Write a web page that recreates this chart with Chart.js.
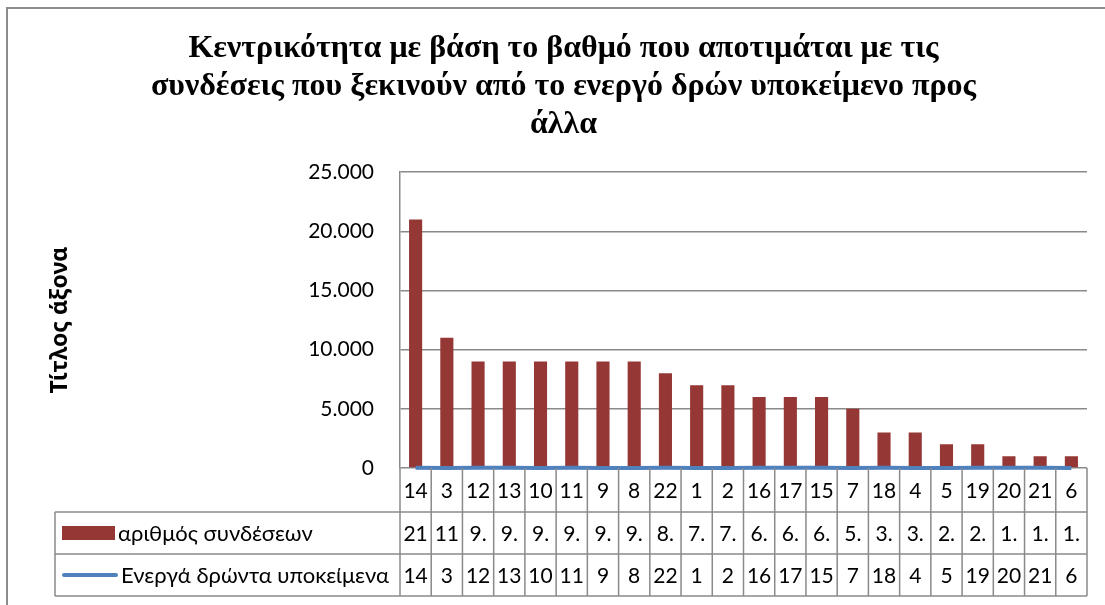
<!DOCTYPE html>
<html>
<head>
<meta charset="utf-8">
<script src="https://cdn.jsdelivr.net/npm/chart.js@4"></script>
<style>
  body { margin: 0; background: #fff; }
  #wrap { width: 1105px; height: 605px; position: relative; }
</style>
</head>
<body>
<div id="wrap"><canvas id="degreeChart"></canvas></div>
<script>
const categories = ['14', '3', '12', '13', '10', '11', '9', '8', '22', '1', '2', '16', '17', '15', '7', '18', '4', '5', '19', '20', '21', '6'];
const connections = [21000, 11000, 9000, 9000, 9000, 9000, 9000, 9000, 8000, 7000, 7000, 6000, 6000, 6000, 5000, 3000, 3000, 2000, 2000, 1000, 1000, 1000];
const actors = [14, 3, 12, 13, 10, 11, 9, 8, 22, 1, 2, 16, 17, 15, 7, 18, 4, 5, 19, 20, 21, 6];
const yTicks = [0, 5000, 10000, 15000, 20000, 25000];

const titleLines = [
  'Κεντρικότητα με βάση το βαθμό που αποτιμάται με τις',
  'συνδέσεις που ξεκινούν από το ενεργό δρών υποκείμενο προς',
  'άλλα'
];

const barColor = '#953735';
const lineColor = '#4F81BD';
const gridColor = '#8a8a8a';
const textFont = 'Lato, "Noto Sans", sans-serif';

function fmt(v) {
  return String(v).replace(/\B(?=(\d{3})+(?!\d))/g, '.');
}

// fit as many characters as the cell allows, like the table in the original
function clipText(ctx, s, w) {
  let out = s;
  while (out.length > 1 && ctx.measureText(out).width > w) out = out.slice(0, -1);
  return out;
}

const frame = {
  id: 'frame',
  beforeDraw(chart) {
    const c = chart.ctx;
    c.save();
    c.fillStyle = '#fff';
    c.fillRect(0, 0, chart.width, chart.height);
    c.strokeStyle = '#8c8c8c';
    c.lineWidth = 2;
    c.strokeRect(7, 8, chart.width + 20, chart.height + 20);
    c.restore();
  }
};

const dataTable = {
  id: 'dataTable',
  afterDraw(chart) {
    const c = chart.ctx;
    const area = chart.chartArea;
    const x = chart.scales.x;
    const n = categories.length;
    const colW = (area.right - area.left) / n;
    const rows = [[area.bottom, 512], [512, 554], [554, 596]];
    const legendLeft = 55;

    c.save();
    c.strokeStyle = gridColor;
    c.lineWidth = 1.5;

    // horizontal lines
    c.beginPath();
    c.moveTo(area.left, rows[0][1]); c.lineTo(area.right, rows[0][1]);
    c.moveTo(legendLeft, rows[1][0]); c.lineTo(area.right, rows[1][0]);
    c.moveTo(legendLeft, rows[2][0]); c.lineTo(area.right, rows[2][0]);
    c.moveTo(legendLeft, rows[2][1]); c.lineTo(area.right, rows[2][1]);
    // vertical lines
    for (let i = 0; i <= n; i++) {
      const px = area.left + i * colW;
      c.moveTo(px, rows[0][0]); c.lineTo(px, rows[2][1]);
    }
    c.moveTo(legendLeft, rows[1][0]); c.lineTo(legendLeft, rows[2][1]);
    c.stroke();

    c.fillStyle = '#000';
    c.font = '21px ' + textFont;
    c.textAlign = 'center';
    c.textBaseline = 'middle';
    const seriesRows = [categories, connections.map(fmt), actors.map(String)];
    seriesRows.forEach((vals, r) => {
      const cy = (rows[r][0] + rows[r][1]) / 2 + 1;
      vals.forEach((v, i) => {
        const cx = x.getPixelForValue(i);
        c.fillText(clipText(c, v, colW - 4), cx, cy);
      });
    });

    // legend keys
    const ds = chart.data.datasets;
    const y1 = (rows[1][0] + rows[1][1]) / 2;
    const y2 = (rows[2][0] + rows[2][1]) / 2;
    c.fillStyle = barColor;
    c.fillRect(62, y1 - 7, 53, 14);
    c.strokeStyle = lineColor;
    c.lineWidth = 4;
    c.lineCap = 'round';
    c.beginPath();
    c.moveTo(64, y2); c.lineTo(116, y2);
    c.stroke();
    c.fillStyle = '#000';
    c.textAlign = 'left';
    c.font = '22px ' + textFont;
    c.fillText(ds[0].label, 118, y1 + 1);
    c.fillText(ds[1].label, 121, y2 + 1);
    c.restore();
  }
};

const chart = new Chart(document.getElementById('degreeChart'), {
  data: {
    labels: categories,
    datasets: [
      {
        type: 'bar',
        label: 'αριθμός συνδέσεων',
        data: connections,
        backgroundColor: barColor,
        categoryPercentage: 1,
        barPercentage: 0.42,
        order: 2
      },
      {
        type: 'line',
        label: 'Ενεργά δρώντα υποκείμενα',
        data: actors,
        borderColor: lineColor,
        borderWidth: 4,
        pointRadius: 0,
        tension: 0,
        clip: 4,
        order: 1
      }
    ]
  },
  options: {
    responsive: true,
    maintainAspectRatio: false,
    animation: false,
    layout: { padding: { top: 8, right: 18, bottom: 137, left: 40 } },
    scales: {
      x: { display: false },
      y: {
        min: 0,
        max: 25000,
        afterBuildTicks: s => { s.ticks = yTicks.map(v => ({ value: v })); },
        afterFit: s => { s.width = 360; },
        border: { color: gridColor, width: 1.5 },
        grid: { color: gridColor, lineWidth: 1.5, drawTicks: false },
        ticks: {
          color: '#000',
          padding: 26,
          font: { family: textFont, size: 21 },
          callback: v => fmt(v)
        },
        title: {
          display: true,
          text: 'Τίτλος άξονα',
          color: '#000',
          padding: { top: 7, bottom: 0 },
          font: { family: '"Noto Sans", "Open Sans", sans-serif', size: 23, weight: 'bold' }
        }
      }
    },
    plugins: {
      legend: { display: false },
      tooltip: { enabled: false },
      title: {
        display: true,
        text: titleLines,
        color: '#000',
        padding: { top: 22, bottom: 28 },
        font: { family: '"Liberation Serif", "Times New Roman", serif', size: 32, weight: 'bold', lineHeight: 1.19 }
      }
    }
  },
  plugins: [frame, dataTable]
});
</script>
</body>
</html>
